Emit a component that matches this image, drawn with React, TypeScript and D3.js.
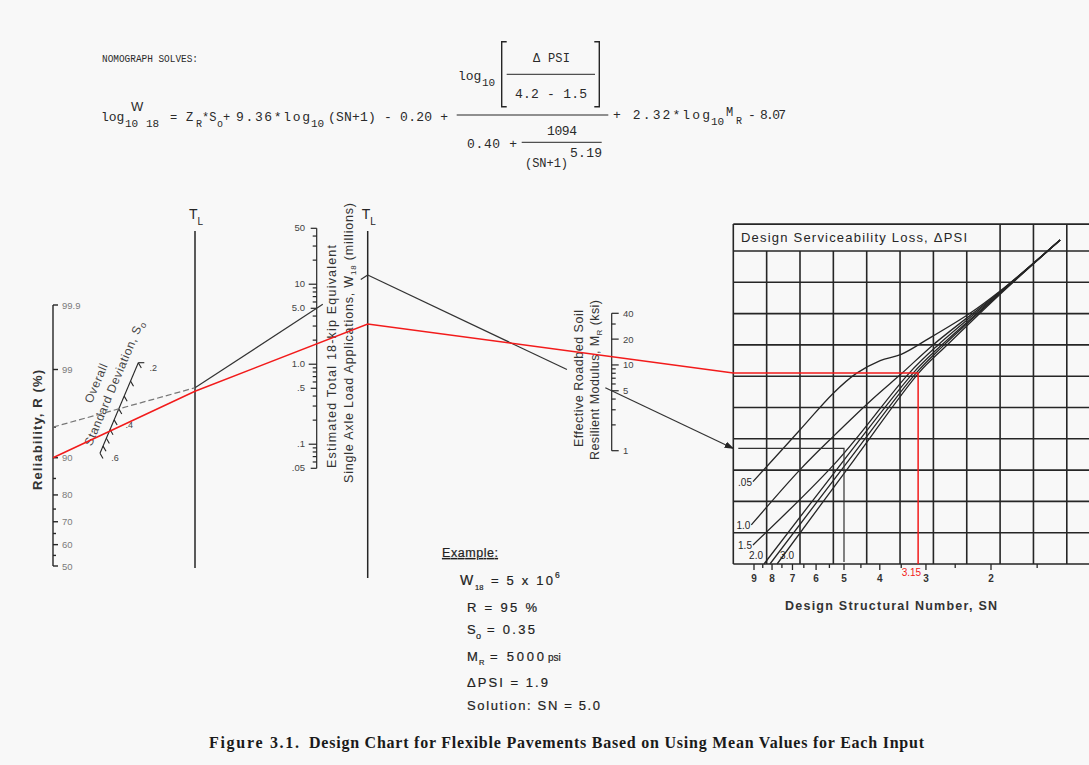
import React from 'react';
import * as d3 from 'd3';

type P = [number, number];

// ---- chart values ----
const reliabilityLabels = [50, 60, 70, 80, 90, 99, 99.9];
const reliabilityMinor = [55, 65, 75, 85, 95];

const soTicks = [0.2, 0.25, 0.3, 0.35, 0.4, 0.45, 0.5, 0.55, 0.6];
const soLabels = [0.2, 0.4, 0.6];

const w18Labels = [0.05, 0.1, 0.5, 1, 5, 10, 50];
const w18LabelText = ['.05', '.1', '.5', '1.0', '5.0', '10', '50'];

const mrLabels = [1, 5, 10, 20, 40];

const snLabels = [9, 8, 7, 6, 5, 4, 3, 2];
const snMinor = [8.5, 7.5, 6.5, 5.5, 4.5, 3.5, 2.5, 1.5];

// design serviceability loss curves, points as [SN, grid row]
const psiLabels = ['.05', '1.0', '1.5', '2.0', '', '3.0'];
const psiCurves: P[][] = [
  [[9.06, 2.63], [6.67, 4.28], [5.37, 5.45], [4.63, 6.09], [3.99, 6.5], [3.5, 6.7], [2.99, 7.16], [2.28, 8.01], [1.89, 8.72], [1.3, 10.35]],
  [[9.16, 1.25], [6.68, 3.0], [5.37, 4.07], [4.17, 5.29], [3.48, 6.1], [2.87, 7.0], [1.89, 8.7], [1.3, 10.35]],
  [[9.06, 0.61], [5.2, 3.32], [3.33, 6.1], [2.78, 7.0], [1.89, 8.68], [1.3, 10.35]],
  [[8.43, 0], [5.0, 3.32], [3.25, 6.1], [2.73, 6.98], [1.89, 8.66], [1.3, 10.35]],
  [[8.11, 0], [4.85, 3.32], [3.19, 6.1], [2.7, 6.96], [1.89, 8.64], [1.3, 10.35]],
  [[7.74, 0], [4.7, 3.32], [3.14, 6.1], [2.66, 6.94], [1.89, 8.62], [1.3, 10.35]],
];

// worked examples
const blackExample = { R: 95, So: 0.35, W18: 5, MR: 5, SN: 5 };
const redExample = { R: 90, So: 0.46, W18: 1.8, MR: 12.5, SN: 3.15 };

const W = 1089;
const H = 765;
const INK = '#262626';
const RED = '#f21b1b';
const SANS = '"Liberation Sans", Arial, sans-serif';
const MONO = '"Liberation Mono", "Courier New", monospace';
const SERIF = '"Liberation Serif", "Times New Roman", serif';

// inverse normal (A&S 26.2.23)
function probit(p: number) {
  const q = p < 0.5 ? p : 1 - p;
  const t = Math.sqrt(-2 * Math.log(q));
  const z = t - (2.515517 + 0.802853 * t + 0.010328 * t * t) / (1 + 1.432788 * t + 0.189269 * t * t + 0.001308 * t * t * t);
  return p < 0.5 ? -z : z;
}

const lerp = (a: P, b: P, t: number): P => [a[0] + (b[0] - a[0]) * t, a[1] + (b[1] - a[1]) * t];
const atX = (a: P, b: P, x: number): P => lerp(a, b, (x - a[0]) / (b[0] - a[0]));

export default function App() {
  // axes positions
  const rAxisX = 53;
  const tl1X = 195;
  const tl2X = 367.7;
  const w18X = 316.7;
  const mrX = 611.7;
  const gridLeft = 733.3;

  const zY = d3.scaleLinear().domain([0, probit(0.999)]).range([566, 305]);
  const rY = (r: number) => zY(probit(r / 100));

  const soA: P = [100, 453.3];
  const soB: P = [138.3, 362.7];
  const soT = d3.scaleLog().domain([0.6, 0.2]).range([0, 1]);
  const soPoint = (v: number) => lerp(soA, soB, soT(v));
  const soAngle = (Math.atan2(soB[1] - soA[1], soB[0] - soA[0]) * 180) / Math.PI;

  const w18Y = d3.scaleLog().domain([0.05, 50]).range([468.3, 228.3]);
  const mrY = d3.scaleLog().domain([1, 40]).range([450.7, 313.3]);
  const snX = d3.scaleLog().domain([9, 5, 2]).range([754, 844, 991]);
  const rowY = d3.scaleLinear().domain([0, 10]).range([564, 251]);
  const colX = d3.scaleLinear().domain([0, 1]).range([gridLeft, gridLeft + 33.35]);

  const psiLine = d3
    .line<P>()
    .x((d) => snX(d[0]))
    .y((d) => rowY(d[1]))
    .curve(d3.curveCatmullRom.alpha(0.5));

  const solve = (ex: typeof blackExample) => {
    const pR: P = [rAxisX, rY(ex.R)];
    const pS = soPoint(ex.So);
    const p1 = atX(pR, pS, tl1X);
    const pW: P = [w18X, w18Y(ex.W18)];
    const p2 = atX(p1, pW, tl2X);
    const pM: P = [mrX, mrY(ex.MR)];
    const pE = atX(p2, pM, gridLeft);
    const pN: P = [snX(ex.SN), pE[1]];
    const pB: P = [snX(ex.SN), rowY(0)];
    return { pR, p1, p2, pE, pN, pB };
  };
  const blk = solve(blackExample);
  const red = solve(redExample);
  const poly = (pts: P[]) => d3.line()(pts) as string;

  const titleTop = rowY(10.86);
  const cols = d3.range(0, 12);
  const rows = d3.range(0, 11);

  const w18Ticks = w18Y.ticks();
  const mrTicks = mrY.ticks();
  const isPow10 = (v: number) => Math.abs(Math.log10(v) - Math.round(Math.log10(v))) < 1e-6;

  return (
    <svg width={W} height={H} style={{ position: 'fixed', left: 0, top: 0, display: 'block', background: '#f8f8f8' }}>
      <defs>
        <marker id="arr" viewBox="0 0 10 10" refX="9" refY="5" markerWidth="8" markerHeight="8" orient="auto">
          <path d="M0,1.5 L10,5 L0,8.5 Z" fill={INK} />
        </marker>
      </defs>
      <rect width={W} height={H} fill="#f8f8f8" />

      {/* formula */}
      <g fontFamily={MONO} fill="#2a2a2a">
        <text x={102} y={62} fontSize={11} textLength={96} lengthAdjust="spacingAndGlyphs">NOMOGRAPH SOLVES:</text>
        <text x={101} y={121} fontSize={13}>log</text>
        <text x={125} y={127} fontSize={11}>10</text>
        <text x={131} y={111} fontSize={13} fontFamily={SANS}>W</text>
        <text x={146} y={127} fontSize={11}>18</text>
        <text x={170} y={121} fontSize={12}>=</text>
        <text x={186} y={121} fontSize={12}>Z</text>
        <text x={196} y={127} fontSize={10}>R</text>
        <text x={202} y={121} fontSize={12}>*S</text>
        <text x={217} y={127} fontSize={10}>o</text>
        <text x={223} y={121} fontSize={12}>+</text>
        <text x={236} y={121} fontSize={13} textLength={74}>9.36*log</text>
        <text x={311} y={127} fontSize={11}>10</text>
        <text x={328} y={121} fontSize={13} textLength={120}>(SN+1) - 0.20 +</text>

        <text x={458} y={80} fontSize={13}>log</text>
        <text x={482} y={86} fontSize={11}>10</text>
        <path d="M506.7,41.7 H501.7 V106.7 H506.7" fill="none" stroke={INK} strokeWidth={1.4} />
        <path d="M594.3,41.7 H599.3 V106.7 H594.3" fill="none" stroke={INK} strokeWidth={1.4} />
        <text x={533} y={62} fontSize={12} textLength={37}>Δ PSI</text>
        <line x1={506.7} x2={595} y1={74.3} y2={74.3} stroke={INK} strokeWidth={1} />
        <text x={515} y={98} fontSize={13} textLength={72}>4.2 - 1.5</text>
        <line x1={456.7} x2={608.3} y1={115} y2={115} stroke={INK} strokeWidth={1} />
        <text x={547} y={135} fontSize={13} textLength={30}>1094</text>
        <line x1={521.7} x2={601.7} y1={142.3} y2={142.3} stroke={INK} strokeWidth={1} />
        <text x={467} y={148} fontSize={13} textLength={50}>0.40 +</text>
        <text x={525} y={167} fontSize={12} textLength={43}>(SN+1)</text>
        <text x={570} y={157} fontSize={13} textLength={32}>5.19</text>

        <text x={613} y={119} fontSize={13} textLength={97}>+ 2.32*log</text>
        <text x={711} y={125} fontSize={11}>10</text>
        <text x={726} y={116} fontSize={12}>M</text>
        <text x={736} y={124} fontSize={10}>R</text>
        <text x={748} y={119} fontSize={13} textLength={38}>- 8.07</text>
      </g>

      {/* reliability axis */}
      <g stroke={INK} strokeWidth={1.4}>
        <line x1={rAxisX} x2={rAxisX} y1={rY(50)} y2={rY(99.9)} />
        {reliabilityLabels.map((v) => (
          <line key={v} x1={rAxisX} x2={rAxisX + 5} y1={rY(v)} y2={rY(v)} />
        ))}
        {reliabilityMinor.map((v) => (
          <line key={v} x1={rAxisX} x2={rAxisX + 3} y1={rY(v)} y2={rY(v)} />
        ))}
      </g>
      {reliabilityLabels.map((v) => (
        <text key={v} x={62} y={rY(v) + 3.5} fontSize={9.5} fill="#7a7a7a" fontFamily={SANS}>{v}</text>
      ))}
      <text transform="translate(42,430) rotate(-90)" textAnchor="middle" fontSize={13} fontWeight="bold" fill="#333" fontFamily={SANS} textLength={120}>Reliability,  R (%)</text>

      {/* standard deviation axis */}
      <g stroke={INK} strokeWidth={1.1}>
        <line x1={soA[0]} y1={soA[1]} x2={soB[0]} y2={soB[1]} />
        <line x1={soB[0]} y1={soB[1]} x2={soB[0] + 6} y2={soB[1]} />
        {soTicks.map((v) => {
          const p = soPoint(v);
          return <line key={v} x1={p[0]} y1={p[1]} x2={p[0] + 3} y2={p[1] + 5.2} />;
        })}
      </g>
      {soLabels.map((v) => {
        const p = soPoint(v);
        return (
          <text key={v} x={p[0] + 15} y={p[1] + 8} fontSize={9} textAnchor="middle" fill="#444" fontFamily={SANS}>
            {String(v).replace('0.', '.')}
          </text>
        );
      })}
      <g fontFamily={SANS} fontSize={12} fill="#444" textAnchor="middle">
        <text transform={`translate(96,383) rotate(${soAngle})`} dy="0.35em" letterSpacing={0.6}>Overall</text>
        <text transform={`translate(114,383) rotate(${soAngle})`} dy="0.35em" letterSpacing={0.6}>
          Standard Deviation, S<tspan fontSize={9} dy={3}>o</tspan>
        </text>
      </g>

      {/* turning lines */}
      <g stroke={INK} strokeWidth={1.5}>
        <line x1={tl1X} x2={tl1X} y1={231} y2={568} />
        <line x1={tl2X} x2={tl2X} y1={231} y2={578} />
      </g>
      {[tl1X, tl2X].map((x) => (
        <g key={x} fontFamily={SANS} fill={INK}>
          <text x={x - 6} y={219} fontSize={14}>T</text>
          <text x={x + 2.5} y={225} fontSize={10}>L</text>
        </g>
      ))}

      {/* W18 axis */}
      <g stroke={INK} strokeWidth={1.2}>
        <line x1={w18X} x2={w18X} y1={w18Y(0.05)} y2={w18Y(50)} />
        {w18Ticks.map((v) => {
          const len = isPow10(v) ? 8 : w18Labels.includes(v) ? 6 : 4;
          return <line key={v} x1={w18X - len} x2={w18X} y1={w18Y(v)} y2={w18Y(v)} />;
        })}
      </g>
      {w18Labels.map((v, i) => (
        <text key={v} x={305} y={w18Y(v) + 3} fontSize={9.5} textAnchor="end" fill="#444" fontFamily={SANS}>{w18LabelText[i]}</text>
      ))}
      <g fontFamily={SANS} fontSize={12.5} fill="#333" textAnchor="middle">
        <text transform="translate(336,356.5) rotate(-90)" textLength={223}>Estimated Total 18-kip Equivalent</text>
        <text transform="translate(353,343) rotate(-90)" textLength={280}>
          Single Axle Load Applications, W<tspan fontSize={8} dy={3}>18</tspan><tspan dy={-3}> (millions)</tspan>
        </text>
      </g>

      {/* MR axis */}
      <g stroke={INK} strokeWidth={1.2}>
        <line x1={mrX} x2={mrX} y1={mrY(1)} y2={mrY(40)} />
        {mrTicks.map((v) => {
          const len = isPow10(v) || mrLabels.includes(v) ? 7 : 4;
          return <line key={v} x1={mrX} x2={mrX + len} y1={mrY(v)} y2={mrY(v)} />;
        })}
      </g>
      {mrLabels.map((v) => (
        <text key={v} x={623} y={mrY(v) + 3.5} fontSize={9.5} fill="#444" fontFamily={SANS}>{v}</text>
      ))}
      <g fontFamily={SANS} fontSize={12.5} fill="#333" textAnchor="middle">
        <text transform="translate(583,378.5) rotate(-90)" textLength={137}>Effective Roadbed Soil</text>
        <text transform="translate(599,380) rotate(-90)" textLength={160}>
          Resilient Modulus, M<tspan fontSize={8} dy={3}>R</tspan><tspan dy={-3}> (ksi)</tspan>
        </text>
      </g>

      {/* grid */}
      <g stroke={INK} strokeWidth={1.6}>
        <line x1={gridLeft} x2={W} y1={titleTop} y2={titleTop} />
        {rows.map((r) => (
          <line key={r} x1={gridLeft} x2={W} y1={rowY(r)} y2={rowY(r)} />
        ))}
        {cols.map((c) => (
          <line key={c} x1={colX(c)} x2={colX(c)} y1={c >= 1 && c <= 7 ? rowY(10) : titleTop} y2={rowY(0)} />
        ))}
      </g>
      <text x={741} y={242} fontSize={13} fill={INK} fontFamily={SANS} textLength={226}>Design Serviceability Loss,  ΔPSI</text>

      {/* PSI curves */}
      <g fill="none" stroke={INK} strokeWidth={1.3}>
        {psiCurves.map((c, i) => (
          <path key={i} d={psiLine(c) as string} />
        ))}
      </g>
      {psiCurves.map((c, i) => {
        if (!psiLabels[i]) return null;
        const x = snX(c[0][0]);
        const y = rowY(c[0][1]);
        const last = i === psiCurves.length - 1;
        const onAxis = c[0][1] === 0;
        return (
          <text key={i} x={last ? x + 3 : x - 1} y={onAxis ? y - 5 : y + 4} fontSize={10} textAnchor={last ? 'start' : 'end'} fill={INK} fontFamily={SANS}>
            {psiLabels[i]}
          </text>
        );
      })}

      {/* SN axis */}
      <g stroke={INK} strokeWidth={1.3}>
        {snLabels.map((v) => (
          <line key={v} x1={snX(v)} x2={snX(v)} y1={rowY(0)} y2={rowY(0) + 6} />
        ))}
        {snMinor.map((v) => (
          <line key={v} x1={snX(v)} x2={snX(v)} y1={rowY(0)} y2={rowY(0) + 4} />
        ))}
      </g>
      {snLabels.map((v) => (
        <text key={v} x={snX(v)} y={582} fontSize={10} fontWeight="bold" textAnchor="middle" fill="#333" fontFamily={SANS}>{v}</text>
      ))}
      <text x={785} y={610} fontSize={12.5} fontWeight="bold" fill="#333" fontFamily={SANS} textLength={212}>Design  Structural  Number,  SN</text>

      {/* black example */}
      <g fill="none" stroke="#333" strokeWidth={1.2}>
        <path d={poly([blk.pR, blk.p1])} stroke="#777" strokeDasharray="6 3" />
        <path d={poly([blk.p1, lerp(blk.p1, blk.p2, 0.74)])} />
        <path d={poly([lerp(blk.p1, blk.p2, 0.96), blk.p2])} />
        <path d={poly([blk.p2, lerp(blk.p2, blk.pE, 0.545)])} />
        <path d={poly([lerp(blk.p2, blk.pE, 0.65), blk.pE])} markerEnd="url(#arr)" />
        <path d={poly([[blk.pE[0] + 5, blk.pE[1]], blk.pN, [blk.pN[0], blk.pB[1] - 2]])} />
      </g>

      {/* red example */}
      <path d={poly([red.pR, red.p1, red.p2, red.pE, red.pN, red.pB])} fill="none" stroke={RED} strokeWidth={1.5} />
      <text x={red.pN[0] + 3} y={576} fontSize={10} textAnchor="end" fill={RED} fontFamily={SANS}>{redExample.SN}</text>

      {/* example text */}
      <g fontFamily={SANS} fill="#222" stroke="#222" strokeWidth={0.2}>
        <text x={442} y={557} fontSize={12.5} textLength={56} textDecoration="underline">Example:</text>
        <text x={460} y={585} fontSize={14}>W</text>
        <text x={475} y={590} fontSize={7.5}>18</text>
        <text x={491} y={585} fontSize={13} textLength={62}>= 5 x 10</text>
        <text x={555} y={578} fontSize={8.5}>6</text>
        <text x={467} y={612} fontSize={13} textLength={70}>R = 95 %</text>
        <text x={467} y={634} fontSize={13}>S</text>
        <text x={476} y={639} fontSize={9}>o</text>
        <text x={487} y={634} fontSize={13} textLength={48}>= 0.35</text>
        <text x={467} y={661} fontSize={13}>M</text>
        <text x={479} y={665} fontSize={7.5}>R</text>
        <text x={490} y={661} fontSize={13} textLength={54}>= 5000</text>
        <text x={548} y={661} fontSize={10}>psi</text>
        <text x={467} y={687} fontSize={13} textLength={81}>ΔPSI  =  1.9</text>
        <text x={467} y={710} fontSize={13} textLength={133}>Solution:  SN = 5.0</text>
      </g>

      {/* caption */}
      <g fontFamily={SERIF} fontWeight="bold" fontSize={16} fill="#1a1a1a">
        <text x={209} y={748} textLength={90}>Figure 3.1.</text>
        <text x={309} y={748} textLength={615}>Design Chart for Flexible Pavements Based on Using Mean Values for Each Input</text>
      </g>
    </svg>
  );
}
